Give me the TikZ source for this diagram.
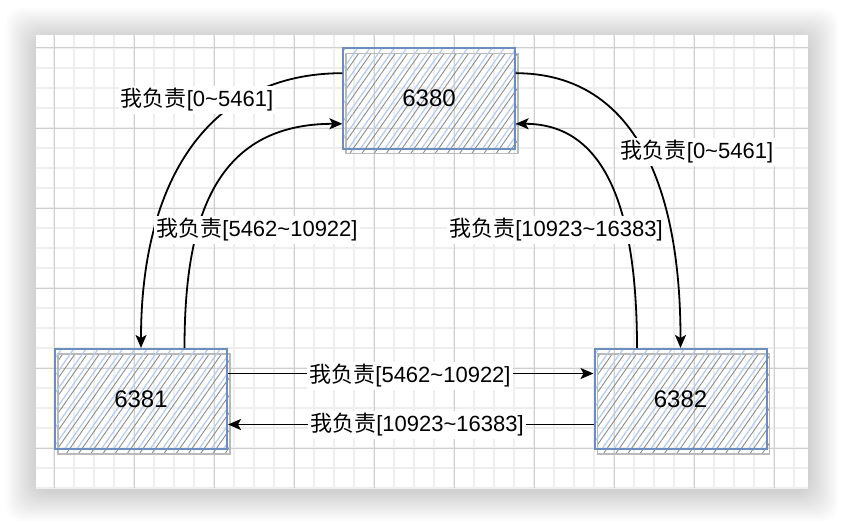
\documentclass[tikz,border=0pt]{standalone}
\usepackage{fontspec}
\setmainfont{Liberation Sans}
\newfontfamily\cjk{Noto Sans CJK SC}
\usepackage{tikz}
\usetikzlibrary{arrows.meta, positioning, calc, patterns.meta}
\definecolor{boxblue}{HTML}{6C8EBF}
\definecolor{hatchblue}{HTML}{B4CBEC}
\definecolor{hatchgray}{HTML}{8C8C8C}
\definecolor{gridminor}{HTML}{EEEEEE}
\definecolor{gridmajor}{HTML}{CFCFCF}
\tikzset{
  shard/.style={draw=boxblue, line width=1pt, minimum width=86pt, minimum height=50pt,
    font=\fontsize{12}{14}\selectfont,
    pattern={Lines[angle=55, distance=5pt, line width=0.6pt]}, pattern color=hatchblue,
    preaction={draw=gray!55, line width=0.9pt,
      pattern={Lines[angle=55, distance=5pt, xshift=2.4pt, line width=0.45pt]}, pattern color=hatchgray,
      transform canvas={xshift=1.5pt, yshift=-2.5pt}}},
  slot/.style={fill=white, inner sep=1pt, font=\fontsize{11}{13}\selectfont},
  link/.style={-{Stealth[length=6.5pt, width=5.5pt, inset=1.5pt]}, line width=0.9pt}
}
\newcommand{\slotrange}[1]{{\cjk 我负责}[#1]}

\begin{document}
\begin{tikzpicture}[x=0.5pt, y=-0.5pt]
        \useasboundingbox[fill=white] (0,0) rectangle (844,524);

        % Canvas with soft shadow
        \foreach \r in {30,28,...,2}
          \fill[black, opacity=0.013, rounded corners=8pt] (36-\r,38-\r) rectangle (808+\r,491+\r);
        \fill[white] (36,35) rectangle (808,488);
        \begin{scope}
          \clip (36,35) rectangle (808,488);
          \foreach \gx in {54,74,...,808} \draw[gridminor, line width=0.6pt] (\gx,35) -- (\gx,488);
          \foreach \gy in {48,68,...,488} \draw[gridminor, line width=0.6pt] (36,\gy) -- (808,\gy);
          \foreach \gx in {54,134,...,808} \draw[gridmajor, line width=0.5pt] (\gx,35) -- (\gx,488);
          \foreach \gy in {48,128,...,488} \draw[gridmajor, line width=0.5pt] (36,\gy) -- (808,\gy);
        \end{scope}

        % Redis nodes
        \node[shard] (p6380) at (429,98.5) {6380};
        \node[shard] (p6381) at (141,399) {6381};
        \node[shard] (p6382) at (680.5,399) {6382};

        % Slot announcements
        \draw[link] ($(p6380.north west)!0.25!(p6380.south west)$) .. controls +(-133,0) and +(0,-169) .. (p6381.north);
        \draw[link] ($(p6381.north west)!0.75!(p6381.north east)$) .. controls +(0,-129) and +(-128,0) .. ($(p6380.north west)!0.75!(p6380.south west)$);
        \draw[link] ($(p6380.north east)!0.25!(p6380.south east)$) .. controls +(115,0) and +(0,-169) .. (p6382.north);
        \draw[link] ($(p6382.north west)!0.25!(p6382.north east)$) .. controls +(0,-149) and +(85,0) .. ($(p6380.north east)!0.75!(p6380.south east)$);
        \draw[link] ($(p6381.north east)!0.25!(p6381.south east)$) -- ($(p6382.north west)!0.25!(p6382.south west)$);
        \draw[link] ($(p6382.north west)!0.75!(p6382.south west)$) -- ($(p6381.north east)!0.75!(p6381.south east)$);

        % Labels
        \node[slot] (a1) at (197,100) {\slotrange{0\textasciitilde5461}};
        \node[slot] (a2) at (257,230) {\slotrange{5462\textasciitilde10922}};
        \node[slot] (a3) at (697,152) {\slotrange{0\textasciitilde5461}};
        \node[slot] (a4) at (556,230) {\slotrange{10923\textasciitilde16383}};
        \node[slot] (a5) at (410,376) {\slotrange{5462\textasciitilde10922}};
        \node[slot] (a6) at (417,425) {\slotrange{10923\textasciitilde16383}};
\end{tikzpicture}
\end{document}
